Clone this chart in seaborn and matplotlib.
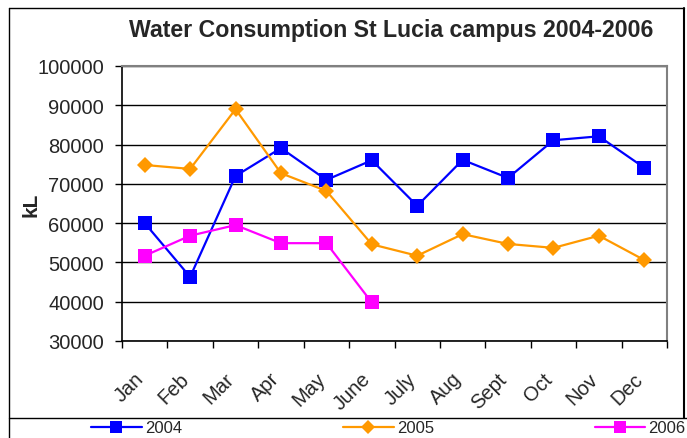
import numpy as np
import pandas as pd
import matplotlib
matplotlib.use("Agg")
import matplotlib.pyplot as plt
import seaborn as sns
from matplotlib.lines import Line2D

# Monthly water consumption (kL)
months = ["Jan", "Feb", "Mar", "Apr", "May", "June",
          "July", "Aug", "Sept", "Oct", "Nov", "Dec"]
y2004 = [60000, 46300, 72000, 79100, 71000, 76000,
         64400, 76100, 71500, 81100, 82100, 74100]
y2005 = [74800, 73800, 89000, 72700, 68200, 54600,
         51700, 57200, 54700, 53700, 56800, 50600]
y2006 = [51700, 56800, 59500, 54900, 54900, 39800]
yticks = [30000, 40000, 50000, 60000, 70000, 80000, 90000, 100000]

df = pd.concat([
    pd.DataFrame({"month": months, "kL": y2004, "year": "2004"}),
    pd.DataFrame({"month": months, "kL": y2005, "year": "2005"}),
    pd.DataFrame({"month": months[:len(y2006)], "kL": y2006, "year": "2006"}),
])
df["pos"] = df["month"].map({m: i for i, m in enumerate(months)})

sns.set_theme(style="white")
plt.rcParams["font.family"] = ["Liberation Sans", "DejaVu Sans"]

colors = {"2004": "#0000FF", "2005": "#FF9900", "2006": "#FF00FF"}
markers = {"2004": "s", "2005": "D", "2006": "s"}
msize = {"2004": 9.5, "2005": 8.5, "2006": 9.5}

fig = plt.figure(figsize=(6.87, 4.39), dpi=100)
ax = fig.add_axes([0.1776, 0.221, 0.7933, 0.6264])

sns.lineplot(data=df, x="pos", y="kL", hue="year", palette=colors,
             style="year", markers=markers, dashes=False, lw=1.6,
             markersize=9, markeredgewidth=0, legend=False, ax=ax)
for line, yr in zip(ax.lines, ["2004", "2005", "2006"]):
    line.set_markersize(msize[yr])

ax.set_ylim(30000, 100000)
ax.set_yticks(yticks)
ax.set_yticklabels([str(v) for v in yticks], fontsize=14.5)
ax.set_xlim(-0.5, 11.5)
# label anchors sit a little left of each month's point, like the original
ax.set_xticks(np.arange(len(months)) - 0.24)
ax.set_xticklabels(months, fontsize=14.5, rotation=45, ha="right",
                   rotation_mode="anchor")
ax.set_xticks(np.arange(-0.5, 12, 1), minor=True)
ax.tick_params(axis="x", which="major", length=0, pad=20)
ax.tick_params(axis="x", which="minor", length=5, width=1, color="black",
               direction="out", bottom=True)
ax.tick_params(axis="y", length=5, width=1, color="black", direction="out",
               left=True, pad=8)
ax.grid(axis="y", color="black", lw=1)
ax.set_axisbelow(True)
ax.set_xlabel("")
ax.set_ylabel("kL", fontsize=15, fontweight="bold")
ax.yaxis.set_label_coords(-0.15, 0.5)
for s in ["top", "right"]:
    ax.spines[s].set_color("#808080")
    ax.spines[s].set_linewidth(1.5)
for s in ["left", "bottom"]:
    ax.spines[s].set_color("black")
    ax.spines[s].set_linewidth(1.2)

fig.text(391.5 / 687, 1 - 31 / 439, "Water Consumption St Lucia campus 2004-2006",
         ha="center", va="center", fontsize=16.7, fontweight="bold")

# outer chart frame
W, H = 687, 439
fig.add_artist(Line2D([9 / W, 9 / W], [0, 1 - 9 / H], color="black", lw=1))
fig.add_artist(Line2D([9 / W, 684 / W], [1 - 9 / H, 1 - 9 / H], color="black", lw=1))
fig.add_artist(Line2D([684 / W, 684 / W], [1 - 419 / H, 1 - 9 / H], color="black", lw=1.5))
fig.add_artist(Line2D([9 / W, 1], [1 - 419 / H, 1 - 419 / H], color="black", lw=1))

handles = [Line2D([], [], color=colors[y], marker=markers[y], lw=1.6,
                  markersize=msize[y] - 1.5, markeredgewidth=0) for y in ["2004", "2005", "2006"]]
fig.legend(handles, ["2004", "2005", "2006"], ncol=3, frameon=False,
           loc="center left", bbox_to_anchor=(91 / W, 1 - 429 / H),
           fontsize=12, handlelength=3.05, handletextpad=0.18,
           columnspacing=9.65, borderpad=0, borderaxespad=0)

fig.savefig("out.png", dpi=100)
